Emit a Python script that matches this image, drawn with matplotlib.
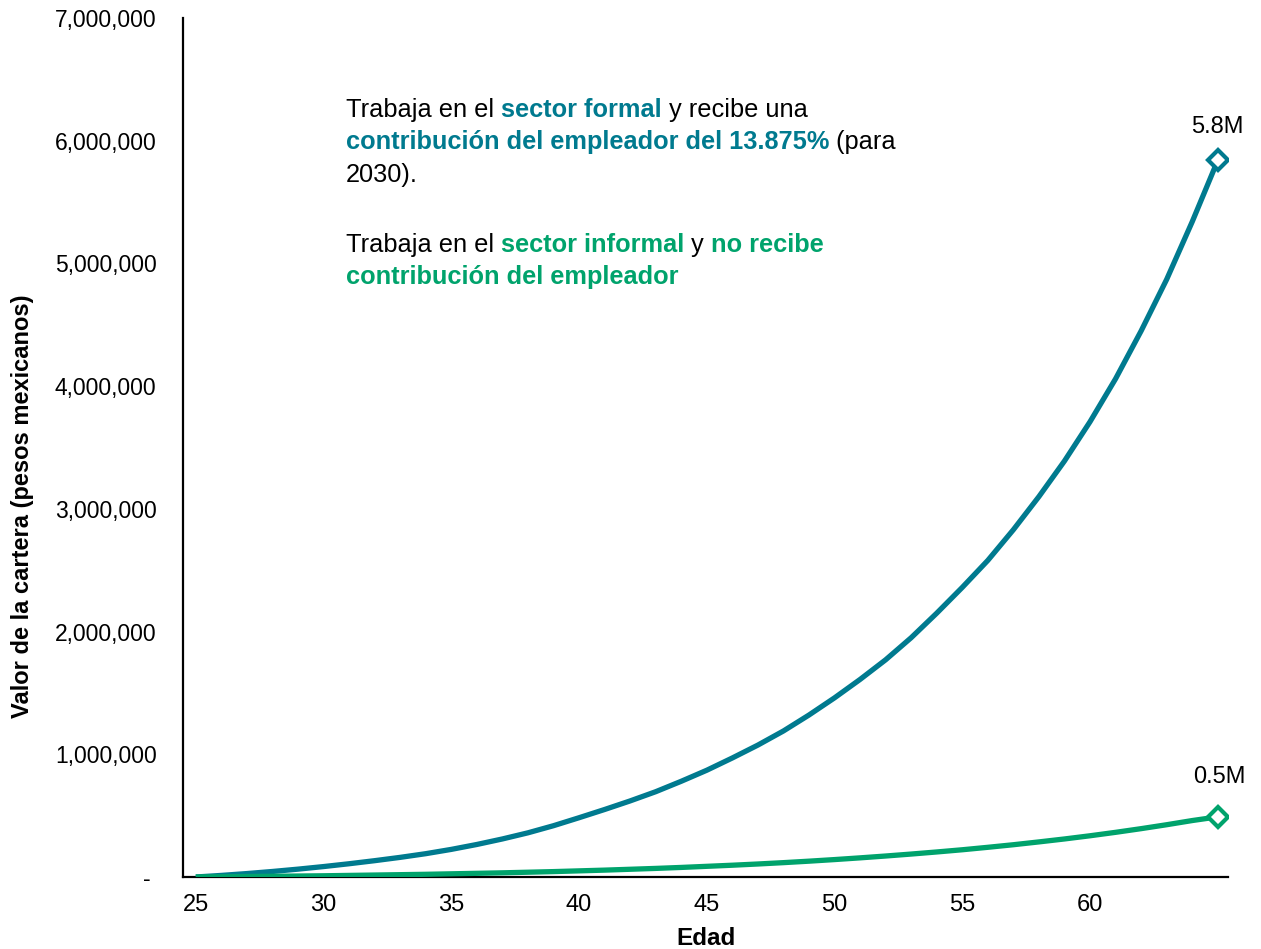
import matplotlib
matplotlib.use('Agg')
import matplotlib.pyplot as plt

# ---------------- data ----------------
ages = list(range(25, 66))
# portfolio value, millions of pesos
formal_m = [0.0, 0.013, 0.028, 0.045, 0.064, 0.085, 0.108, 0.133, 0.16, 0.19,
            0.225, 0.265, 0.31, 0.36, 0.418, 0.483, 0.55, 0.62, 0.695, 0.78,
            0.87, 0.97, 1.075, 1.19, 1.32, 1.46, 1.61, 1.77, 1.95, 2.15,
            2.36, 2.58, 2.83, 3.10, 3.39, 3.71, 4.06, 4.45, 4.87, 5.34, 5.84]
informal_m = [0.0, 0.002, 0.004, 0.006, 0.008, 0.01, 0.013, 0.016, 0.019, 0.022,
              0.026, 0.03, 0.034, 0.039, 0.044, 0.05, 0.056, 0.063, 0.07, 0.078,
              0.087, 0.096, 0.106, 0.117, 0.129, 0.142, 0.156, 0.171, 0.187, 0.204,
              0.222, 0.242, 0.263, 0.286, 0.31, 0.336, 0.364, 0.394, 0.426, 0.46, 0.49]
end_labels = ['5.8M', '0.5M']
xticks = [25, 30, 35, 40, 45, 50, 55, 60]
yticks = [0, 1000000, 2000000, 3000000, 4000000, 5000000, 6000000, 7000000]
ytick_labels = ['- ', '1,000,000', '2,000,000', '3,000,000', '4,000,000',
                '5,000,000', '6,000,000', '7,000,000']

BLUE = '#007A8F'
GREEN = '#00A36C'
FONT = ['Liberation Sans', 'DejaVu Sans']
plt.rcParams['font.family'] = FONT

W, H = 1261, 949
fig = plt.figure(figsize=(W / 100, H / 100), dpi=100)
ax = fig.add_axes([183 / W, 1 - 877 / H, (1228 - 183) / W, (877 - 18) / H])

formal = [v * 1e6 for v in formal_m]
informal = [v * 1e6 for v in informal_m]

ax.plot(ages, formal, color=BLUE, lw=3.8, zorder=3, solid_capstyle='butt', solid_joinstyle='round')
ax.plot(ages, informal, color=GREEN, lw=3.8, zorder=3, solid_capstyle='butt', solid_joinstyle='round')
ax.plot(ages[-1], formal[-1], marker='D', ms=10, mfc='white', mec=BLUE, mew=3, zorder=4)
ax.plot(ages[-1], informal[-1], marker='D', ms=10, mfc='white', mec=GREEN, mew=3, zorder=4)

ax.annotate(end_labels[0], (ages[-1], formal[-1]), xytext=(0, 33), textcoords='offset pixels',
            ha='center', va='center', fontsize=17, color='black')
ax.annotate(end_labels[1], (ages[-1], informal[-1]), xytext=(2, 40), textcoords='offset pixels',
            ha='center', va='center', fontsize=17, color='black')

ax.set_xlim(24.5, 65.4)
ax.set_ylim(0, 7000000)
ax.set_xticks(xticks)
ax.set_xticklabels([str(t) for t in xticks], fontsize=17)
ax.set_yticks(yticks)
ax.set_yticklabels(ytick_labels, fontsize=16.5)
ax.tick_params(axis='both', length=0)
ax.tick_params(axis='x', pad=12)
ax.tick_params(axis='y', pad=19)
for s in ['top', 'right']:
    ax.spines[s].set_visible(False)
for s in ['left', 'bottom']:
    ax.spines[s].set_linewidth(1.6)
    ax.spines[s].set_color('black')

ax.set_xlabel('Edad', fontsize=17.5, fontweight='bold')
ax.xaxis.set_label_coords(0.5, -0.058)
ax.set_ylabel('Valor de la cartera (pesos mexicanos)', fontsize=17, fontweight='bold')
ax.yaxis.set_label_coords(-0.143, 0.432)

# ---------------- rich annotation text ----------------
renderer = fig.canvas.get_renderer()
TS = 18.3


def seg_width(txt, weight):
    p = fig.text(0, 0, txt + '|', fontsize=TS, fontweight=weight)
    b = fig.text(0, 0, '|', fontsize=TS, fontweight=weight)
    w = p.get_window_extent(renderer).width - b.get_window_extent(renderer).width
    p.remove()
    b.remove()
    return w


def rich_line(x0, ybase, segments):
    x = x0
    for txt, color, weight in segments:
        fig.text(x / W, 1 - ybase / H, txt, color=color, fontsize=TS, fontweight=weight,
                 ha='left', va='baseline')
        x += seg_width(txt, weight)


X0 = 346
rich_line(X0, 117, [('Trabaja en el ', 'black', 'normal'),
                    ('sector formal', BLUE, 'bold'),
                    (' y recibe una', 'black', 'normal')])
rich_line(X0, 149.5, [('contribución del empleador del 13.875%', BLUE, 'bold'),
                      (' (para', 'black', 'normal')])
rich_line(X0, 182, [('2030).', 'black', 'normal')])
rich_line(X0, 252, [('Trabaja en el ', 'black', 'normal'),
                    ('sector informal', GREEN, 'bold'),
                    (' y ', 'black', 'normal'),
                    ('no recibe', GREEN, 'bold')])
rich_line(X0, 284, [('contribución del empleador', GREEN, 'bold')])

fig.savefig('out.png', dpi=100)
